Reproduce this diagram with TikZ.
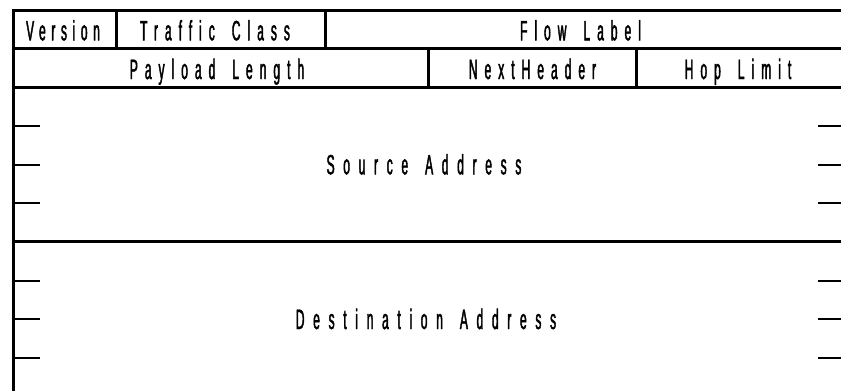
\documentclass[tikz,border=0pt]{standalone}
\usepackage{fontspec}
\newfontfamily\lblfont[FakeStretch=0.43,LetterSpace=25,FakeBold=1.5]{Liberation Sans}
\newfontfamily\verfont[FakeStretch=0.43,LetterSpace=20,FakeBold=1.5]{Liberation Sans}
\newfontfamily\bigfont[FakeStretch=0.43,LetterSpace=31,FakeBold=1.5]{Liberation Sans}
\newcommand{\wsp}{\kern17pt\relax}
\begin{document}
\begin{tikzpicture}[x=1pt,y=-1pt,
  frame/.style={line width=3pt},
  tickline/.style={line width=2pt},
  lbl/.style={inner sep=0pt, anchor=base, font=\lblfont\fontsize{28}{30}\selectfont},
  verlbl/.style={inner sep=0pt, anchor=base, font=\verfont\fontsize{28}{30}\selectfont},
  biglbl/.style={inner sep=0pt, anchor=base, font=\bigfont\fontsize{28}{30}\selectfont}]
\useasboundingbox (0,0) rectangle (841,391);
\clip (0,0) rectangle (841,391);
% outer frame and row separators
\draw[frame] (845,10.7) -| (13.3,400);
\draw[frame] (845,10.7) -- (845,400);
\draw[frame] (13.3,48.3) -- (845,48.3);
\draw[frame] (13.3,87.3) -- (845,87.3);
\draw[frame] (13.3,241.7) -- (845,241.7);
\draw[frame] (13.3,397) -- (845,397);
% field separators
\draw[frame] (116.7,10.7) -- (116.7,48.3);
\draw[frame] (325,10.7) -- (325,48.3);
\draw[frame] (428.7,48.3) -- (428.7,87.3);
\draw[frame] (636.7,48.3) -- (636.7,87.3);
% 32-bit word ticks
\foreach \y in {126,164.5,203.2,280.5,319.3,358}{
  \draw[tickline] (13.3,\y) -- (40,\y);
  \draw[tickline] (818,\y) -- (845,\y);
}
% labels
\node[verlbl] (ver) at (63,40.3) {Version};
\node[lbl] (tc) at (215,40.3) {Traffic\wsp Class};
\node[lbl] (fl) at (580.5,40.3) {Flow\wsp Label};
\node[lbl] (pl) at (217,79) {Payload\wsp Length};
\node[lbl] (nh) at (532.5,79) {NextHeader};
\node[lbl] (hl) at (738,79) {Hop\wsp Limit};
\node[biglbl] (src) at (424,174.3) {Source\wsp Address};
\node[biglbl] (dst) at (426,329) {Destination\wsp Address};
\end{tikzpicture}
\end{document}
